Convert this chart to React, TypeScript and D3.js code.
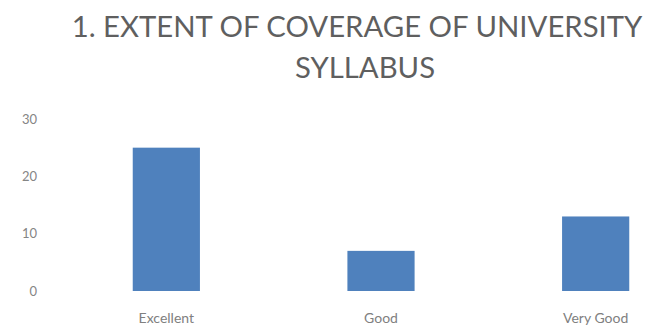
import React from "react";
import * as d3 from "d3";

const categories = ["Excellent", "Good", "Very Good"];
const values = [25, 7, 13];
const yTicks = [0, 10, 20, 30];
const titleLines = ["1. EXTENT OF COVERAGE OF UNIVERSITY", "SYLLABUS"];

const W = 649;
const H = 330;

export default function App() {
  const x = d3.scaleBand<string>().domain(categories).range([59, 703]).paddingInner(0.687).paddingOuter(0.3435);
  const y = d3.scaleLinear().domain([0, 30]).range([291, 119]);
  const font = "Lato, 'Open Sans', sans-serif";
  const titleX = [357, 365];
  return (
    <svg width={W} height={H} style={{ position: "absolute", left: 0, top: 0, background: "#fff" }}>
      <rect x={0} y={0} width={W} height={H} fill="#fff" />
      {titleLines.map((t, i) => (
        <text key={t} x={titleX[i]} y={37 + i * 41} textAnchor="middle" fontFamily={font} fontSize={29.3} fill="#5f5f5f">
          {t}
        </text>
      ))}
      {yTicks.map((v) => (
        <text key={v} x={37} y={y(v)} dy="0.35em" textAnchor="end" fontFamily={font} fontSize={13} fill="#858585">
          {v}
        </text>
      ))}
      {categories.map((c, i) => (
        <g key={c}>
          <rect x={x(c)} y={y(values[i])} width={x.bandwidth()} height={y(0) - y(values[i])} fill="#4f81bd" />
          <text x={(x(c) as number) + x.bandwidth() / 2} y={323} textAnchor="middle" fontFamily={font} fontSize={14} fill="#808080">
            {c}
          </text>
        </g>
      ))}
    </svg>
  );
}
